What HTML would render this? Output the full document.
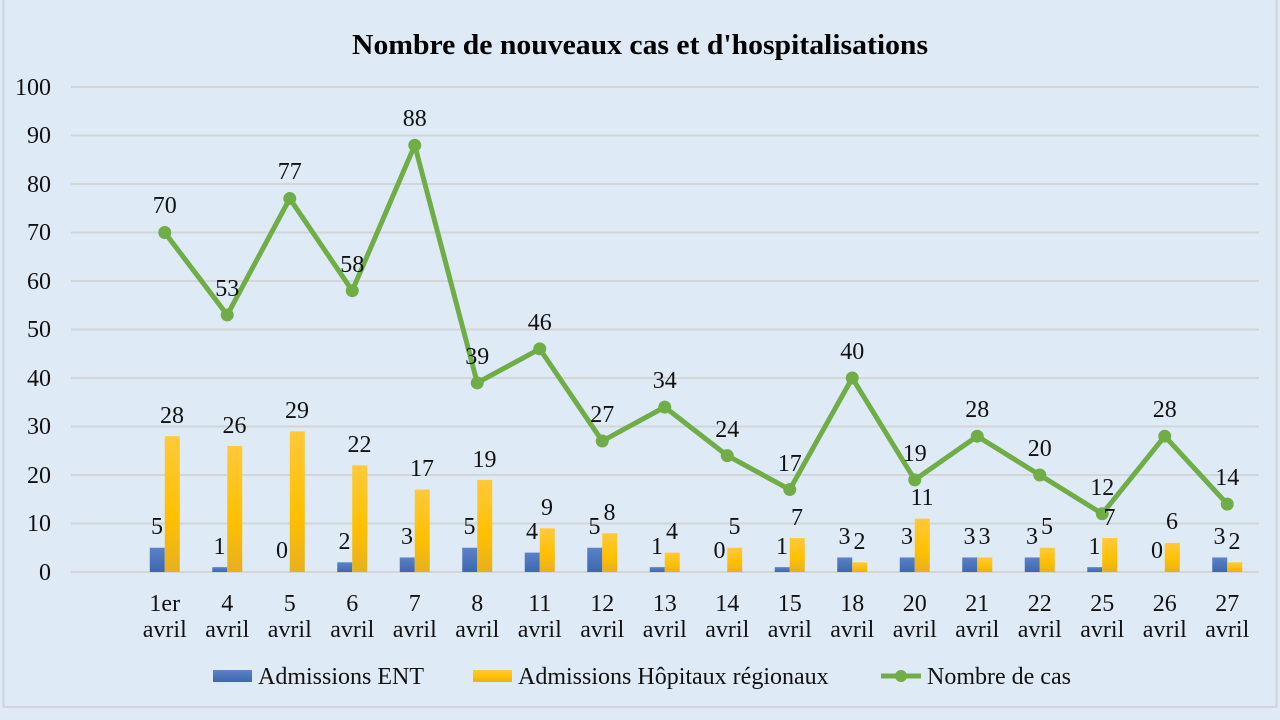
<!DOCTYPE html>
<html><head><meta charset="utf-8"><style>
html,body{margin:0;padding:0;background:#deebf7;}
svg{display:block;font-family:"Liberation Serif",serif;}
</style></head><body>
<svg width="1280" height="720" viewBox="0 0 1280 720" xmlns="http://www.w3.org/2000/svg">
<defs>
<linearGradient id="gy" x1="0" y1="0" x2="0" y2="1"><stop offset="0" stop-color="#ffc93a"/><stop offset="0.6" stop-color="#ffc000"/><stop offset="1" stop-color="#e6b020"/></linearGradient>
<linearGradient id="gb" x1="0" y1="0" x2="0" y2="1"><stop offset="0" stop-color="#5b82c8"/><stop offset="1" stop-color="#3e67b0"/></linearGradient>
</defs>
<rect x="0" y="0" width="1280" height="720" fill="#deebf7"/>
<rect x="3.5" y="-2" width="1273" height="709" fill="none" stroke="#cfd6dd" stroke-width="2"/>
<text x="640" y="54" text-anchor="middle" font-size="28" font-weight="bold" textLength="576" lengthAdjust="spacingAndGlyphs">Nombre de nouveaux cas et d'hospitalisations</text>
<g stroke="#d3d5d7" stroke-width="2">
<line x1="71" x2="1259" y1="87" y2="87"/><line x1="71" x2="1259" y1="135.5" y2="135.5"/><line x1="71" x2="1259" y1="184" y2="184"/><line x1="71" x2="1259" y1="232.5" y2="232.5"/><line x1="71" x2="1259" y1="281" y2="281"/><line x1="71" x2="1259" y1="329.5" y2="329.5"/><line x1="71" x2="1259" y1="378" y2="378"/><line x1="71" x2="1259" y1="426.5" y2="426.5"/><line x1="71" x2="1259" y1="475" y2="475"/><line x1="71" x2="1259" y1="523.5" y2="523.5"/><line x1="71" x2="1259" y1="572" y2="572"/>
</g>
<g font-size="24" text-anchor="end" fill="#111">
<text x="51" y="95">100</text><text x="51" y="143">90</text><text x="51" y="192">80</text><text x="51" y="240">70</text><text x="51" y="289">60</text><text x="51" y="337">50</text><text x="51" y="386">40</text><text x="51" y="434">30</text><text x="51" y="483">20</text><text x="51" y="531">10</text><text x="51" y="580">0</text>
</g>
<g fill="url(#gb)">
<rect x="149.75" y="547.75" width="15" height="24.25"/>
<rect x="212.25" y="567.15" width="15" height="4.85"/>
<rect x="337.25" y="562.3" width="15" height="9.7"/>
<rect x="399.75" y="557.45" width="15" height="14.55"/>
<rect x="462.25" y="547.75" width="15" height="24.25"/>
<rect x="524.75" y="552.6" width="15" height="19.4"/>
<rect x="587.25" y="547.75" width="15" height="24.25"/>
<rect x="649.75" y="567.15" width="15" height="4.85"/>
<rect x="774.75" y="567.15" width="15" height="4.85"/>
<rect x="837.25" y="557.45" width="15" height="14.55"/>
<rect x="899.75" y="557.45" width="15" height="14.55"/>
<rect x="962.25" y="557.45" width="15" height="14.55"/>
<rect x="1024.75" y="557.45" width="15" height="14.55"/>
<rect x="1087.25" y="567.15" width="15" height="4.85"/>
<rect x="1212.25" y="557.45" width="15" height="14.55"/>
</g>
<g fill="url(#gy)">
<rect x="164.75" y="436.2" width="15" height="135.8"/>
<rect x="227.25" y="445.9" width="15" height="126.1"/>
<rect x="289.75" y="431.35" width="15" height="140.65"/>
<rect x="352.25" y="465.3" width="15" height="106.7"/>
<rect x="414.75" y="489.55" width="15" height="82.45"/>
<rect x="477.25" y="479.85" width="15" height="92.15"/>
<rect x="539.75" y="528.35" width="15" height="43.65"/>
<rect x="602.25" y="533.2" width="15" height="38.8"/>
<rect x="664.75" y="552.6" width="15" height="19.4"/>
<rect x="727.25" y="547.75" width="15" height="24.25"/>
<rect x="789.75" y="538.05" width="15" height="33.95"/>
<rect x="852.25" y="562.3" width="15" height="9.7"/>
<rect x="914.75" y="518.65" width="15" height="53.35"/>
<rect x="977.25" y="557.45" width="15" height="14.55"/>
<rect x="1039.75" y="547.75" width="15" height="24.25"/>
<rect x="1102.25" y="538.05" width="15" height="33.95"/>
<rect x="1164.75" y="542.9" width="15" height="29.1"/>
<rect x="1227.25" y="562.3" width="15" height="9.7"/>
</g>
<polyline fill="none" stroke="#70ad47" stroke-width="5" stroke-linejoin="round" points="164.75,232.5 227.25,314.95 289.75,198.55 352.25,290.7 414.75,145.2 477.25,382.85 539.75,348.9 602.25,441.05 664.75,407.1 727.25,455.6 789.75,489.55 852.25,378 914.75,479.85 977.25,436.2 1039.75,475 1102.25,513.8 1164.75,436.2 1227.25,504.1"/>
<g fill="#70ad47">
<circle cx="164.75" cy="232.5" r="6.5"/><circle cx="227.25" cy="314.95" r="6.5"/><circle cx="289.75" cy="198.55" r="6.5"/><circle cx="352.25" cy="290.7" r="6.5"/><circle cx="414.75" cy="145.2" r="6.5"/><circle cx="477.25" cy="382.85" r="6.5"/><circle cx="539.75" cy="348.9" r="6.5"/><circle cx="602.25" cy="441.05" r="6.5"/><circle cx="664.75" cy="407.1" r="6.5"/><circle cx="727.25" cy="455.6" r="6.5"/><circle cx="789.75" cy="489.55" r="6.5"/><circle cx="852.25" cy="378" r="6.5"/><circle cx="914.75" cy="479.85" r="6.5"/><circle cx="977.25" cy="436.2" r="6.5"/><circle cx="1039.75" cy="475" r="6.5"/><circle cx="1102.25" cy="513.8" r="6.5"/><circle cx="1164.75" cy="436.2" r="6.5"/><circle cx="1227.25" cy="504.1" r="6.5"/>
</g>
<g font-size="24" text-anchor="middle" fill="#111">
<text x="164.75" y="213">70</text><text x="227.25" y="296">53</text><text x="289.75" y="179">77</text><text x="352.25" y="272">58</text><text x="414.75" y="126">88</text><text x="477.25" y="364">39</text><text x="539.75" y="330">46</text><text x="602.25" y="422">27</text><text x="664.75" y="388">34</text><text x="727.25" y="437">24</text><text x="789.75" y="471">17</text><text x="852.25" y="359">40</text><text x="914.75" y="461">19</text><text x="977.25" y="417">28</text><text x="1039.75" y="456">20</text><text x="1102.25" y="495">12</text><text x="1164.75" y="417">28</text><text x="1227.25" y="485">14</text>
</g>
<g font-size="24" text-anchor="middle" fill="#111">
<text x="157" y="534">5</text><text x="219.5" y="554">1</text><text x="282" y="558">0</text><text x="344.5" y="549">2</text><text x="407" y="544">3</text><text x="469.5" y="534">5</text><text x="532" y="539">4</text><text x="594.5" y="534">5</text><text x="657" y="554">1</text><text x="719.5" y="558">0</text><text x="782" y="554">1</text><text x="844.5" y="544">3</text><text x="907" y="544">3</text><text x="969.5" y="544">3</text><text x="1032" y="544">3</text><text x="1094.5" y="554">1</text><text x="1157" y="558">0</text><text x="1219.5" y="544">3</text>
</g>
<g font-size="24" text-anchor="middle" fill="#111">
<text x="172" y="423">28</text><text x="234.5" y="433">26</text><text x="297" y="418">29</text><text x="359.5" y="452">22</text><text x="422" y="476">17</text><text x="484.5" y="467">19</text><text x="547" y="515">9</text><text x="609.5" y="520">8</text><text x="672" y="539">4</text><text x="734.5" y="534">5</text><text x="797" y="525">7</text><text x="859.5" y="549">2</text><text x="922" y="505">11</text><text x="984.5" y="544">3</text><text x="1047" y="534">5</text><text x="1109.5" y="525">7</text><text x="1172" y="529">6</text><text x="1234.5" y="549">2</text>
</g>
<g font-size="24" text-anchor="middle" fill="#111">
<text x="164.75" y="611">1er</text><text x="227.25" y="611">4</text><text x="289.75" y="611">5</text><text x="352.25" y="611">6</text><text x="414.75" y="611">7</text><text x="477.25" y="611">8</text><text x="539.75" y="611">11</text><text x="602.25" y="611">12</text><text x="664.75" y="611">13</text><text x="727.25" y="611">14</text><text x="789.75" y="611">15</text><text x="852.25" y="611">18</text><text x="914.75" y="611">20</text><text x="977.25" y="611">21</text><text x="1039.75" y="611">22</text><text x="1102.25" y="611">25</text><text x="1164.75" y="611">26</text><text x="1227.25" y="611">27</text>
<text x="164.75" y="637">avril</text><text x="227.25" y="637">avril</text><text x="289.75" y="637">avril</text><text x="352.25" y="637">avril</text><text x="414.75" y="637">avril</text><text x="477.25" y="637">avril</text><text x="539.75" y="637">avril</text><text x="602.25" y="637">avril</text><text x="664.75" y="637">avril</text><text x="727.25" y="637">avril</text><text x="789.75" y="637">avril</text><text x="852.25" y="637">avril</text><text x="914.75" y="637">avril</text><text x="977.25" y="637">avril</text><text x="1039.75" y="637">avril</text><text x="1102.25" y="637">avril</text><text x="1164.75" y="637">avril</text><text x="1227.25" y="637">avril</text>
</g>
<rect x="213" y="670" width="39" height="12" fill="url(#gb)"/>
<text x="258" y="684" font-size="24" fill="#111">Admissions ENT</text>
<rect x="473" y="670" width="39" height="12" fill="url(#gy)"/>
<text x="518" y="684" font-size="24" fill="#111">Admissions Hôpitaux régionaux</text>
<line x1="881" y1="676" x2="921" y2="676" stroke="#70ad47" stroke-width="5"/>
<circle cx="901" cy="676" r="6" fill="#70ad47"/>
<text x="927" y="684" font-size="24" fill="#111">Nombre de cas</text>
</svg>
</body></html>
